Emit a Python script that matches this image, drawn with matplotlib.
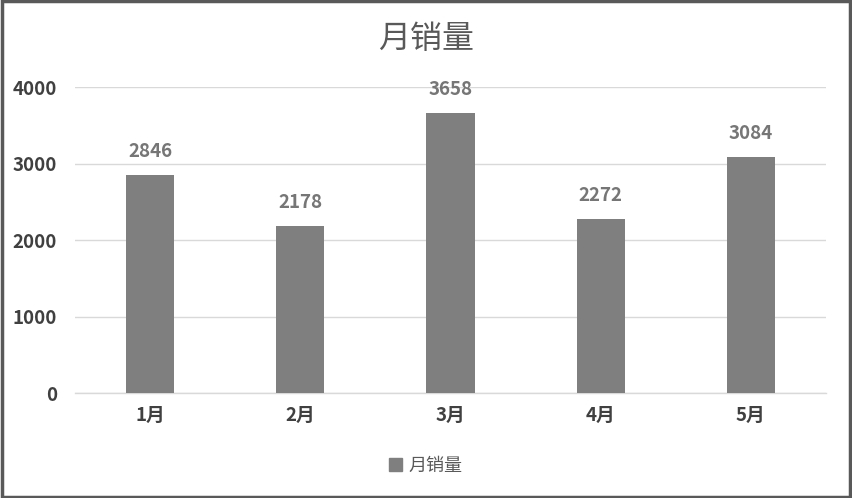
import matplotlib
matplotlib.use("Agg")
import matplotlib.pyplot as plt
import matplotlib.patches as mpatches

plt.rcParams["font.family"] = ["Noto Sans CJK SC", "DejaVu Sans"]

months = ["1月", "2月", "3月", "4月", "5月"]
sales = [2846, 2178, 3658, 2272, 3084]
yticks = [0, 1000, 2000, 3000, 4000]

BAR_COLOR = "#7f7f7f"
GRID_COLOR = "#d9d9d9"
TEXT_DARK = "#404040"
TEXT_GRAY = "#595959"

fig = plt.figure(figsize=(8.52, 4.98), dpi=100)
ax = fig.add_axes([75 / 852, 1 - 393 / 498, 751 / 852, 306 / 498])

x = list(range(len(months)))
ax.bar(x, sales, width=0.32, color=BAR_COLOR, zorder=3, label="月销量")

for xi, v in zip(x, sales):
    ax.text(xi, v + 190, str(v), ha="center", va="bottom", fontsize=13.5,
            fontweight="bold", color="#767676")

ax.set_xlim(-0.5, len(months) - 0.5)
ax.set_ylim(0, 4000)
ax.set_yticks(yticks)
ax.set_yticklabels([str(t) for t in yticks], fontsize=13.5, fontweight="bold", color=TEXT_DARK)
ax.set_xticks(x)
ax.set_xticklabels(months, fontsize=13.5, fontweight="bold", color=TEXT_DARK)
ax.tick_params(axis="y", length=0, pad=13)
ax.tick_params(axis="x", length=0, pad=9)
ax.grid(axis="y", color=GRID_COLOR, linewidth=1, zorder=0)
ax.set_axisbelow(True)
for side in ["top", "right", "left"]:
    ax.spines[side].set_visible(False)
ax.spines["bottom"].set_color(GRID_COLOR)
ax.spines["bottom"].set_linewidth(1)

fig.text(0.5, 1 - 39 / 498, "月销量", ha="center", va="center", fontsize=23, color=TEXT_GRAY)

leg = fig.legend(handles=[mpatches.Patch(color=BAR_COLOR, label="月销量")],
                 loc="center", bbox_to_anchor=(0.5, 1 - 466 / 498), frameon=False,
                 fontsize=13, handlelength=0.7, handleheight=0.7, handletextpad=0.4)
for t in leg.get_texts():
    t.set_color(TEXT_GRAY)

border = mpatches.Rectangle((0.002, 0.003), 0.996, 0.994, transform=fig.transFigure,
                            fill=False, edgecolor="#595959", linewidth=2.5)
fig.patches.append(border)

fig.savefig("out.png", dpi=100)
